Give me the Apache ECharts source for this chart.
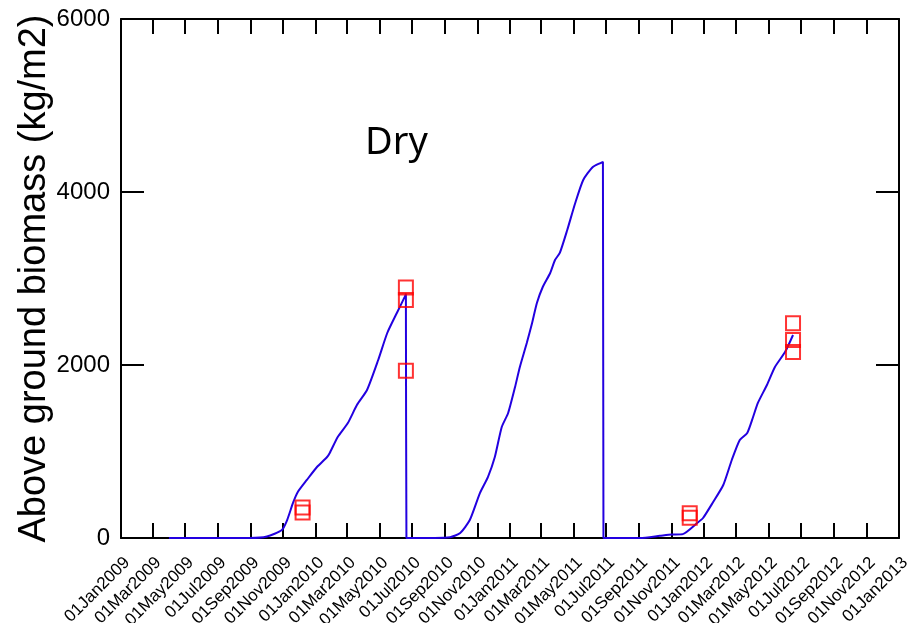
<!DOCTYPE html>
<html>
<head>
<meta charset="utf-8">
<script src="https://cdn.jsdelivr.net/npm/echarts@6/dist/echarts.min.js"></script>
<style>
html,body{margin:0;padding:0;background:#fff;}
#chart{width:916px;height:623px;}
</style>
</head>
<body>
<div id="chart"></div>
<script>
// ---- data ----
var tickLabels = ['01Jan2009','01Mar2009','01May2009','01Jul2009','01Sep2009','01Nov2009',
  '01Jan2010','01Mar2010','01May2010','01Jul2010','01Sep2010','01Nov2010',
  '01Jan2011','01Mar2011','01May2011','01Jul2011','01Sep2011','01Nov2011',
  '01Jan2012','01Mar2012','01May2012','01Jul2012','01Sep2012','01Nov2012','01Jan2013'];
var yTicks = [0, 2000, 4000, 6000];

var lineDates = ['2009-04-01','2009-08-31','2009-10-02','2009-10-30','2009-11-09','2009-11-20','2009-11-29',
  '2009-12-16','2010-01-04','2010-01-23','2010-01-28','2010-02-12','2010-03-03','2010-03-20','2010-04-08',
  '2010-04-29','2010-05-16','2010-06-03','2010-06-18','2010-06-20','2010-06-21',
  '2010-09-11','2010-09-30','2010-10-18','2010-11-06','2010-11-21','2010-12-04','2010-12-17','2010-12-29',
  '2011-01-11','2011-01-20','2011-02-02','2011-02-12','2011-02-21','2011-03-04','2011-03-18','2011-03-27',
  '2011-04-05','2011-04-19','2011-05-04','2011-05-19','2011-06-06','2011-06-25','2011-06-26',
  '2011-09-03','2011-10-10','2011-11-01','2011-11-22','2011-12-19','2011-12-30','2012-01-18','2012-02-06',
  '2012-02-22','2012-03-08','2012-03-22','2012-04-02','2012-04-11','2012-04-28','2012-05-13','2012-06-01','2012-06-16'];
var lineValues = [0,0,17,92,208,405,532,
  671,821,936,983,1168,1329,1537,1711,
  2058,2370,2601,2790,2820,0,
  10,58,208,520,705,936,1283,1445,
  1746,1977,2254,2486,2717,2902,3064,3214,
  3295,3561,3873,4139,4289,4347,0,
  0,25,40,45,173,231,416,613,
  902,1133,1214,1399,1561,1769,1977,2150,2347];

var obsDates = ['2009-12-08','2009-12-08','2010-06-20','2010-06-20','2010-06-20',
  '2011-12-05','2011-12-05','2012-06-16','2012-06-16','2012-06-16'];
var obsValues = [354,295,2896,2751,1934,285,233,2482,2289,2150];

// ---- helpers ----
var MON = ['Jan','Feb','Mar','Apr','May','Jun','Jul','Aug','Sep','Oct','Nov','Dec'];
var DAY = 86400000;
function parseLabel(s){
  var d = parseInt(s.slice(0,2),10), m = MON.indexOf(s.slice(2,5)), y = parseInt(s.slice(5),10);
  return Date.UTC(y, m, d) / DAY;
}
function parseISO(s){
  var p = s.split('-');
  return Date.UTC(+p[0], +p[1]-1, +p[2]) / DAY;
}
var tickValues = tickLabels.map(parseLabel);
var labelMap = {};
tickLabels.forEach(function(l,i){ labelMap[tickValues[i]] = l; });

var lineData = lineDates.map(function(d,i){ return [parseISO(d), lineValues[i]]; });
var obsData = obsDates.map(function(d,i){ return [parseISO(d), obsValues[i]]; });

var FONT = 'Liberation Sans';
var axisLineStyle = {color:'#000', width:2};

var chart = echarts.init(document.getElementById('chart'), null, {renderer:'canvas'});
chart.setOption({
  animation:false,
  backgroundColor:'#fff',
  grid:{left:121, right:17, top:19, bottom:85, containLabel:false, outerBoundsMode:'none'},
  xAxis:[{
    type:'value', position:'bottom',
    min:tickValues[0], max:tickValues[tickValues.length-1],
    axisLine:{show:true, onZero:false, lineStyle:axisLineStyle},
    axisTick:{show:true, inside:true, length:15, lineStyle:{color:'#000', width:2}, customValues:tickValues},
    axisLabel:{show:true, customValues:tickValues, rotate:45, margin:16, verticalAlign:'top',
      fontFamily:FONT, fontSize:17, color:'#000', hideOverlap:false,
      formatter:function(v){ return labelMap[Math.round(v)] || ''; }},
    splitLine:{show:false}, minorTick:{show:false}
  },{
    type:'value', position:'top',
    min:tickValues[0], max:tickValues[tickValues.length-1],
    axisLine:{show:true, onZero:false, lineStyle:axisLineStyle},
    axisTick:{show:true, inside:true, length:15, lineStyle:{color:'#000', width:2}, customValues:tickValues},
    axisLabel:{show:false},
    splitLine:{show:false}
  }],
  yAxis:[{
    type:'value', position:'left', min:0, max:6000, interval:2000,
    name:'Above ground biomass (kg/m2)', nameLocation:'middle', nameGap:67, nameRotate:90,
    nameMoveOverlap:false,
    nameTextStyle:{fontFamily:FONT, fontSize:38, color:'#000'},
    axisLine:{show:true, onZero:false, lineStyle:axisLineStyle},
    axisTick:{show:true, inside:true, length:23, lineStyle:{color:'#000', width:2}, customValues:yTicks},
    axisLabel:{show:true, margin:11, fontFamily:FONT, fontSize:24, color:'#000', customValues:yTicks,
      formatter:function(v){ return String(v); }},
    splitLine:{show:false}
  },{
    type:'value', position:'right', min:0, max:6000, interval:2000,
    axisLine:{show:true, onZero:false, lineStyle:axisLineStyle},
    axisTick:{show:true, inside:true, length:23, lineStyle:{color:'#000', width:2}, customValues:yTicks},
    axisLabel:{show:false},
    splitLine:{show:false}
  }],
  graphic:[{
    type:'text', left:365, top:124,
    style:{text:'Dry', font:'38px "Noto Sans"', fill:'#000'}
  }],
  series:[{
    type:'line', xAxisIndex:0, yAxisIndex:0, data:lineData,
    showSymbol:false, smooth:0.2,
    lineStyle:{color:'#2200e0', width:2}, z:2
  },{
    type:'scatter', xAxisIndex:0, yAxisIndex:0, data:obsData,
    symbol:'rect', symbolSize:14,
    itemStyle:{color:'rgba(0,0,0,0)', borderColor:'#ff0000', borderWidth:2}, z:3
  }]
});
</script>
</body>
</html>
